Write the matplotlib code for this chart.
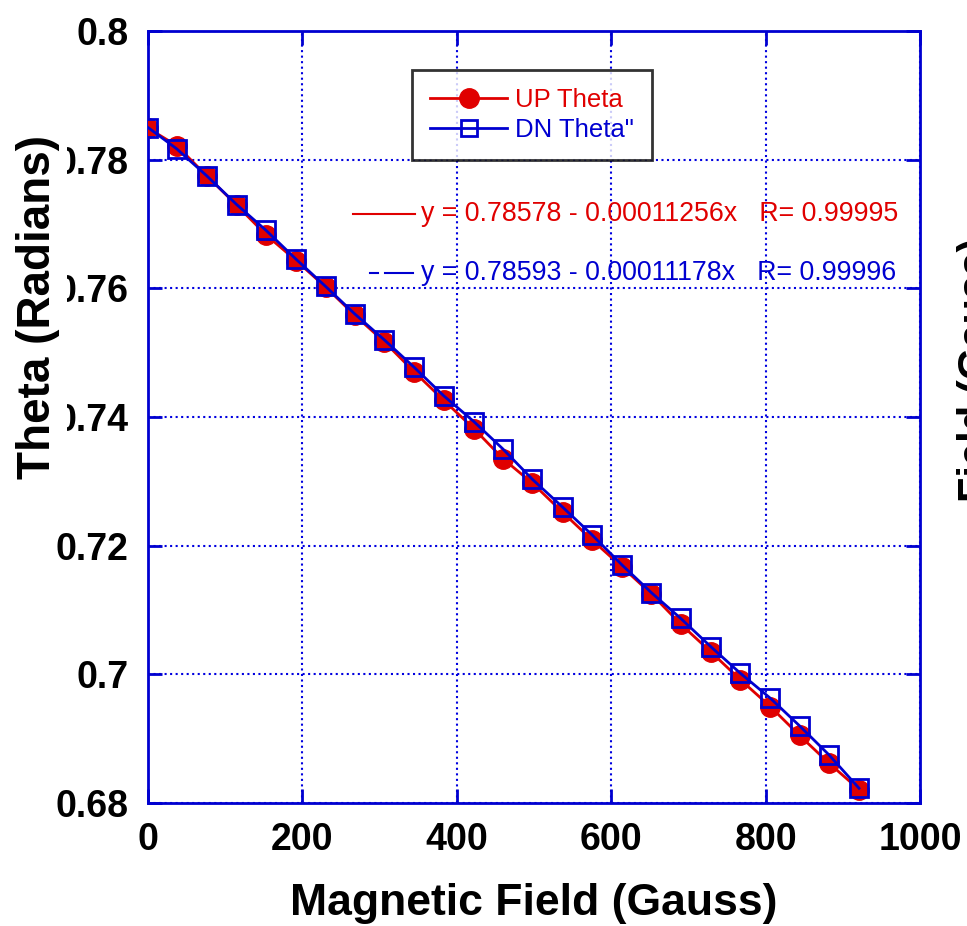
import matplotlib
matplotlib.use('Agg')
import matplotlib.pyplot as plt
from matplotlib.lines import Line2D

# magnetic field (Gauss)
field = [0, 37, 76, 115, 153, 192, 230, 268, 306, 345, 383, 422, 460,
         498, 537, 575, 614, 652, 690, 729, 767, 806, 844, 882, 921]
# theta (radians)
theta_up = [0.7849, 0.7822, 0.7775, 0.7729, 0.7683, 0.7643, 0.7602, 0.7558,
            0.7517, 0.7470, 0.7426, 0.7382, 0.7335, 0.7297, 0.7252, 0.7209,
            0.7167, 0.7125, 0.7078, 0.7035, 0.6992, 0.6950, 0.6905, 0.6862,
            0.6821]
theta_dn = [0.7850, 0.7817, 0.7775, 0.7730, 0.7690, 0.7645, 0.7603, 0.7560,
            0.7520, 0.7477, 0.7433, 0.7393, 0.7350, 0.7303, 0.7260, 0.7217,
            0.7170, 0.7127, 0.7087, 0.7043, 0.7002, 0.6963, 0.6920, 0.6875,
            0.6823]
fit_up = 'y = 0.78578 - 0.00011256x   R= 0.99995'
fit_dn = 'y = 0.78593 - 0.00011178x   R= 0.99996'
xticks = [0, 200, 400, 600, 800, 1000]
yticks = [0.68, 0.7, 0.72, 0.74, 0.76, 0.78, 0.8]

plt.rcParams['font.family'] = ['Liberation Sans', 'DejaVu Sans']

fig = plt.figure(figsize=(9.67, 9.26), dpi=100)
ax = fig.add_axes([0.1531, 0.1328, 0.7983, 0.8337])

ax.plot(field, theta_up, color='#e00000', lw=2, marker='o', ms=14,
        mfc='#e00000', mec='#e00000', zorder=3)
ax.plot(field, theta_dn, color='#0000d0', lw=2, marker='s', ms=12.5,
        mfc='none', mec='#0000d0', mew=2, zorder=4)

ax.set_xlim(0, 1000)
ax.set_ylim(0.68, 0.8)
ax.set_xticks(xticks)
ax.set_yticks(yticks)
ax.set_xticklabels([str(v) for v in xticks])
ax.set_yticklabels(['0.68', '0.7', '0.72', '0.74', '0.76', '0.78', '0.8'])
for lab in ax.get_xticklabels() + ax.get_yticklabels():
    lab.set_fontweight('bold')
    lab.set_fontsize(27)

ax.grid(True, color='#0000e0', ls=':', lw=1.5)
for s in ax.spines.values():
    s.set_color('#0000d0')
    s.set_linewidth(2)
ax.tick_params(direction='in', length=10, width=2, color='#0000d0',
               top=True, right=True, pad=14)
ax.tick_params(axis='y', pad=14)

ax.set_xlabel('Magnetic Field (Gauss)', fontsize=32, fontweight='bold',
              labelpad=18)
# y label sits on a white box that hides part of the tick labels
fig.text(0.039, 1 - 307 / 926, 'Theta (Radians)', rotation=90, fontsize=33,
         fontweight='bold', ha='center', va='center',
         bbox=dict(facecolor='white', edgecolor='none', pad=5), zorder=10)

handles = [Line2D([], [], color='#e00000', lw=2, marker='o', ms=14,
                  mfc='#e00000', mec='#e00000'),
           Line2D([], [], color='#0000d0', lw=2, marker='s', ms=11,
                  mfc='none', mec='#0000d0', mew=2)]
leg = ax.legend(handles, ['UP Theta', 'DN Theta"'], loc='upper left',
                bbox_to_anchor=(0.342, 0.949), borderaxespad=0, fontsize=18.5,
                frameon=True, fancybox=False, edgecolor='black',
                handlelength=3.0, handletextpad=0.3, labelspacing=0.2,
                borderpad=0.7)
leg.get_frame().set_linewidth(2)
leg.get_texts()[0].set_color('#e00000')
leg.get_texts()[1].set_color('#0000d0')

# fit lines and equations
ax.plot([0.265, 0.346], [0.763, 0.763], transform=ax.transAxes,
        color='#e00000', lw=1.5)
ax.text(0.353, 0.763, fit_up, transform=ax.transAxes, color='#e00000',
        fontsize=19.3, va='center')
ax.plot([0.288, 0.298], [0.686, 0.686], transform=ax.transAxes,
        color='#0000d0', lw=1.5)
ax.plot([0.307, 0.343], [0.686, 0.686], transform=ax.transAxes,
        color='#0000d0', lw=1.5)
ax.text(0.353, 0.686, fit_dn, transform=ax.transAxes, color='#0000d0',
        fontsize=19.3, va='center')

# clipped label of neighbouring panel
fig.text(0.99, 1 - 370 / 926, 'Field (Gauss)', rotation=90, fontsize=30,
         fontweight='bold', ha='left', va='center')

fig.savefig('out.png', dpi=100)
